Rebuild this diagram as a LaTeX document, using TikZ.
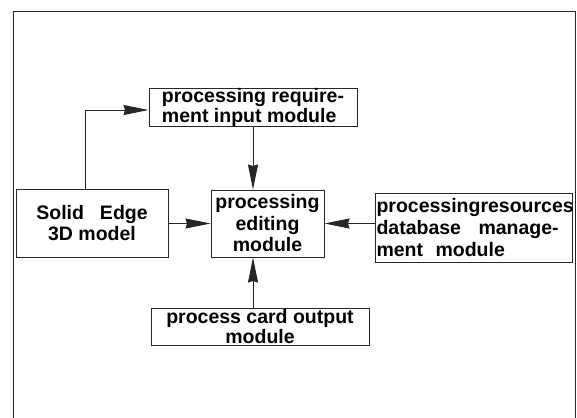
\documentclass[tikz,border=0pt]{standalone}
\usepackage{fontspec}
\setmainfont{Liberation Sans}
\usetikzlibrary{arrows.meta,calc}

\tikzset{
  module/.style={draw=black!85, line width=1pt, inner sep=0pt, fill=white},
  link/.style={draw=black!85, line width=0.9pt,
    -{Stealth[length=25pt, width=10pt, inset=1.5pt]}},
  frameline/.style={draw=black!85, line width=1pt}
}

\newcommand{\boxfont}[1]{\bfseries\fontsize{19.5}{#1}\selectfont}

\begin{document}
\begin{tikzpicture}[x=1pt, y=-1pt]
  \useasboundingbox (0,0) rectangle (577,417);

  % outer frame (open at the bottom)
  \draw[frameline] (13,420) -- (13,12) -- (575,12) -- (575,420);

  % modules
  \node[module, minimum width=208pt, minimum height=37pt,
        align=left, font=\boxfont{13.5}] (req) at (253,107.5)
        {processing require-\\ment input module};
  \node[module, minimum width=113pt, minimum height=67pt,
        align=center, font=\boxfont{21.5}] (edit) at (267.5,223.5)
        {processing\\editing\\module};
  \node[module, minimum width=152pt, minimum height=68pt,
        align=center, font=\boxfont{21}] (model) at (92,223)
        {Solid\hspace{16pt}Edge\\3D model};
  \node[module, minimum width=197pt, minimum height=69pt,
        text width=194pt, inner xsep=1.5pt,
        align=left, font=\boxfont{22}] (res) at (473.5,227.5)
        {processingresources\\database\hspace{11pt} manage-\\ment\hspace{6pt} module};
  \node[module, minimum width=218pt, minimum height=37pt,
        align=center, font=\boxfont{15.5}] (card) at (260,326.5)
        {process card output\\module};

  % connectors
  \draw[link] ([xshift=-7pt]model.north) |- ([yshift=-2.5pt]req.west);
  \draw[link] (req.south) -- (req.south |- edit.north);
  \draw[link] (model.east |- edit) -- (edit.west);
  \draw[link] (res.west |- edit) -- (edit.east);
  \draw[link] ([xshift=-7pt]card.north) -- ([xshift=-7pt]card.north |- edit.south);
\end{tikzpicture}
\end{document}
